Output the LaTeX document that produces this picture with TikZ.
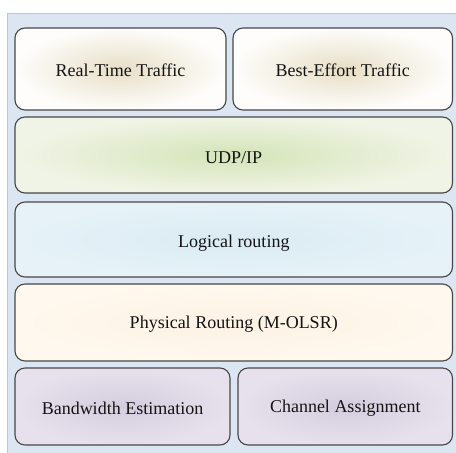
\documentclass[tikz,border=0pt]{standalone}
\usepackage{fontspec}
\setmainfont{Liberation Serif}
\begin{document}
\begin{tikzpicture}[x=1pt,y=-1pt,
  layer/.style={draw=black!72, line width=1.1pt, rounded corners=10pt},
  lbl/.style={font=\fontsize{18}{20}\selectfont, text=black!92}]
\definecolor{panelfill}{HTML}{DCE6F2}
\definecolor{panelline}{HTML}{A9CFD8}
\useasboundingbox (0,0) rectangle (456,453);
\fill[white] (0,0) rectangle (456,453);
\draw[fill=panelfill, draw=panelline, line width=1.5pt] (7.5,13.5) rectangle (470,470);
% top row
\shade[layer, inner color={rgb,255:red,230;green,222;blue,198}, outer color={rgb,255:red,254;green,253;blue,251}] (15,28) rectangle (226,110);
\node[lbl] (rt) at (120.5,70) {Real-Time Traffic};
\shade[layer, inner color={rgb,255:red,230;green,222;blue,198}, outer color={rgb,255:red,254;green,253;blue,251}] (233,28) rectangle (452.5,110);
\node[lbl] (be) at (342.75,70) {Best-Effort Traffic};
% UDP/IP
\shade[layer, inner color={rgb,255:red,212;green,228;blue,184}, outer color={rgb,255:red,240;green,244;blue,230}] (15,117) rectangle (452.5,193);
\node[lbl] (udp) at (233.75,158) {UDP/IP};
% Logical routing
\shade[layer, inner color={rgb,255:red,218;green,235;blue,243}, outer color={rgb,255:red,230;green,242;blue,248}] (15,202) rectangle (452.5,277);
\node[lbl] (lr) at (233.75,243) {Logical routing};
% Physical routing
\shade[layer, inner color={rgb,255:red,253;green,242;blue,228}, outer color={rgb,255:red,254;green,248;blue,238}] (15,284) rectangle (452.5,361);
\node[lbl] (pr) at (233.75,324) {Physical Routing (M-OLSR)};
% bottom row
\shade[layer, inner color={rgb,255:red,212;green,205;blue,222}, outer color={rgb,255:red,231;green,225;blue,237}] (15,368) rectangle (230,445);
\node[lbl] (bw) at (122.5,408) {Bandwidth Estimation};
\shade[layer, inner color={rgb,255:red,212;green,205;blue,222}, outer color={rgb,255:red,231;green,225;blue,237}] (238,368) rectangle (452.5,445);
\node[lbl] (ca) at (345.25,408) {Channel Assignment};
\end{tikzpicture}
\end{document}
